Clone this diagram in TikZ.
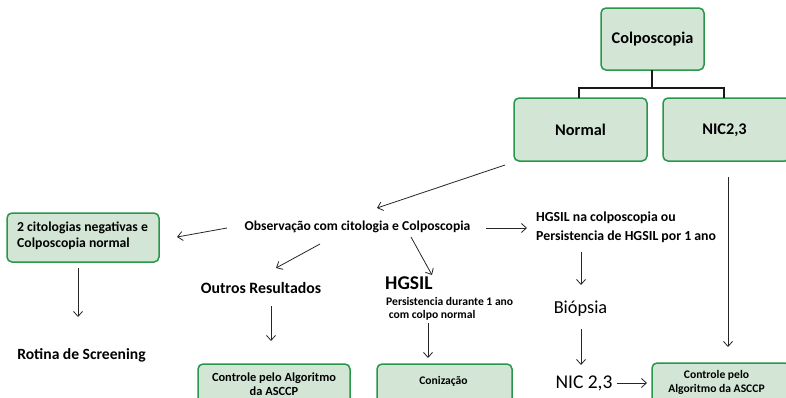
\documentclass[tikz,border=0pt]{standalone}
\usepackage{fontspec}
\setmainfont{Carlito}
\usetikzlibrary{arrows.meta}
\definecolor{boxfill}{RGB}{211,230,214}
\definecolor{boxline}{RGB}{40,150,75}
\newcommand{\fsz}[2]{\fontsize{#1}{#2}\selectfont}
\begin{document}
\begin{tikzpicture}[x=1pt,y=-1pt,
  greenbox/.style={draw=boxline,fill=boxfill,line width=1.5pt,rounded corners=5pt},
  lbl/.style={inner sep=0pt,font=\bfseries},
  arr/.style={-{Straight Barb[length=5pt,width=9pt]},line width=0.8pt,draw=black!85},
  tree/.style={line width=2pt,draw=black!90}]
\clip (0,0) rectangle (786,397);
\useasboundingbox (0,0) rectangle (786,397);
\fill[white] (0,0) rectangle (786,397);

% top tree
\draw[greenbox] (601,8) rectangle (704,70);
\node[lbl,font=\bfseries\fsz{16.3}{18}] (colpo) at (652.5,39) {Colposcopia};
\draw[greenbox] (514,98) rectangle (647,161);
\node[lbl,font=\bfseries\fsz{16.3}{18}] (normal) at (580.5,130) {Normal};
\draw[greenbox] (663,98) rectangle (790,161);
\node[lbl,font=\bfseries\fsz{16.3}{18}] (nic) at (724.5,130) {NIC2,3};
\coordinate (cb) at (652,70);
\coordinate (cm) at (652,88);
\coordinate (nt) at (579,98);
\coordinate (ct) at (724,98);
\draw[tree] (cb) -- (cm);
\draw[tree] (nt) -- (579,88) -- (724,88) -- (ct);

% left branch
\draw[greenbox] (7,213) rectangle (159,262);
\node[lbl,align=left,font=\bfseries\fsz{13.7}{16},anchor=west] (cito) at (17,236) {2 citologias negativas e\\Colposcopia normal};
\node[lbl,font=\bfseries\fsz{15.6}{18}] (rotina) at (81.5,355) {Rotina de Screening};

% middle
\node[lbl,font=\bfseries\fsz{13.6}{16}] (obs) at (357.5,227) {Observação com citologia e Colposcopia};
\node[lbl,font=\bfseries\fsz{15.8}{18}] (outros) at (261,288) {Outros Resultados};
\draw[greenbox] (198,364) rectangle (350,410);
\node[lbl,align=center,font=\bfseries\fsz{12.4}{14}] (ctrl1) at (274,384) {Controle pelo Algoritmo\\da ASCCP};

\node[lbl,font=\bfseries\fsz{19.5}{22},anchor=west] (hgsil) at (385,283) {HGSIL};
\node[lbl,align=left,font=\bfseries\fsz{11.6}{12.5},anchor=west] (pers) at (386,309) {Persistencia durante 1 ano\\\ com colpo normal};
\draw[greenbox] (377,364) rectangle (512,410);
\node[lbl,font=\bfseries\fsz{11.6}{14}] (coniz) at (443.5,381) {Conização};

% right branch
\node[lbl,align=left,font=\bfseries\fsz{13.8}{19},anchor=west] (hgcol) at (536,227) {HGSIL na colposcopia ou\\Persistencia de HGSIL por 1 ano};
\node[inner sep=0pt,font=\fsz{18.3}{21}] (bio) at (580.5,309) {Biópsia};
\node[inner sep=0pt,font=\fsz{19.5}{22}] (nic2) at (584,383) {NIC 2,3};
\draw[greenbox] (652,363) rectangle (790,410);
\node[lbl,align=center,font=\bfseries\fsz{11.6}{14}] (ctrl2) at (716.5,382) {Controle pelo\\Algoritmo da ASCCP};

% connectors
\coordinate (a1s) at (505,165); \coordinate (a1e) at (377,208);
\draw[arr] (a1s) -- (a1e);
\coordinate (a2s) at (227,228); \coordinate (a2e) at (177,237);
\draw[arr] (a2s) -- (a2e);
\coordinate (a3s) at (320,244); \coordinate (a3e) at (276,268);
\draw[arr] (a3s) -- (a3e);
\coordinate (a4s) at (411,237); \coordinate (a4e) at (432,275);
\draw[arr] (a4s) -- (a4e);
\coordinate (a5s) at (486,228); \coordinate (a5e) at (527,228);
\draw[arr] (a5s) -- (a5e);
\coordinate (a6s) at (78,268); \coordinate (a6e) at (78,317);
\draw[arr] (a6s) -- (a6e);
\coordinate (a7s) at (271,306); \coordinate (a7e) at (271,341);
\draw[arr] (a7s) -- (a7e);
\coordinate (a8s) at (428,323); \coordinate (a8e) at (428,358);
\draw[arr] (a8s) -- (a8e);
\coordinate (a9s) at (581,252); \coordinate (a9e) at (581,285);
\draw[arr] (a9s) -- (a9e);
\coordinate (a10s) at (581,329); \coordinate (a10e) at (581,365);
\draw[arr] (a10s) -- (a10e);
\coordinate (a11s) at (617,383); \coordinate (a11e) at (647,383);
\draw[arr] (a11s) -- (a11e);
\coordinate (a12s) at (728,177); \coordinate (a12e) at (728,347);
\draw[arr] (a12s) -- (a12e);
\end{tikzpicture}
\end{document}
